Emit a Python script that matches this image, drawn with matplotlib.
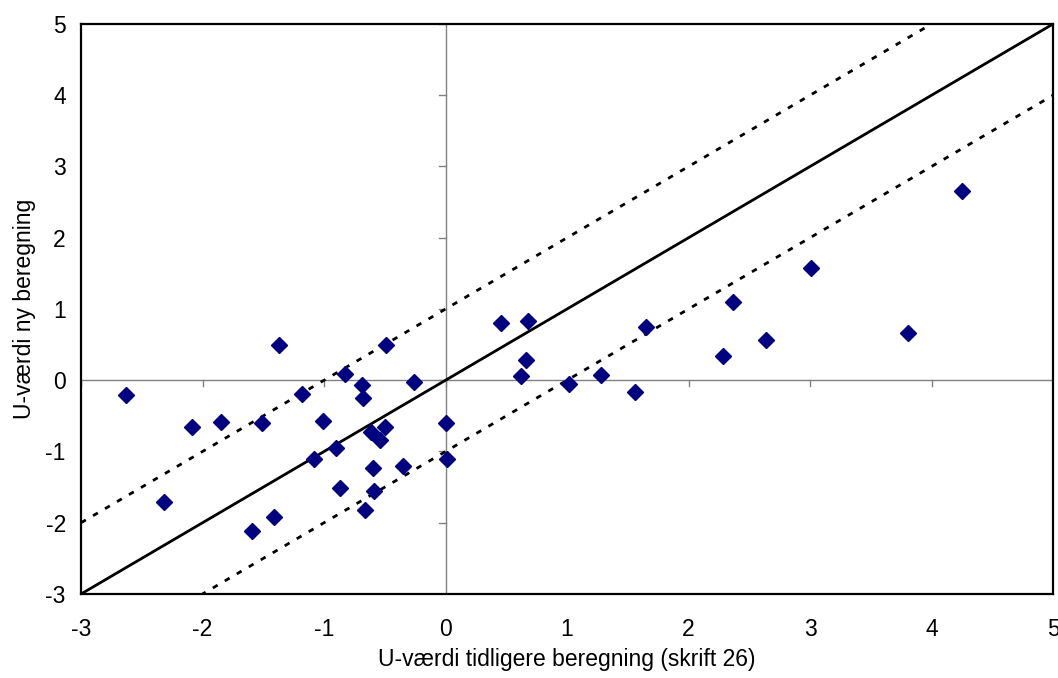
import numpy as np
import matplotlib.pyplot as plt

plt.rcParams['font.family'] = ['Liberation Sans', 'DejaVu Sans']
plt.rcParams['axes.unicode_minus'] = False

# U-values: earlier calculation (x) vs. new calculation (y)
u_old = [-2.63, -2.32, -2.09, -1.85, -1.59, -1.51, -1.41, -1.37, -1.18, -1.08,
         -1.01, -0.90, -0.87, -0.83, -0.69, -0.68, -0.66, -0.61, -0.60, -0.59,
         -0.54, -0.50, -0.49, -0.35, -0.26, 0.00, 0.01, 0.46, 0.62, 0.66,
         0.68, 1.02, 1.28, 1.56, 1.65, 2.28, 2.37, 2.64, 3.01, 3.81, 4.25]
u_new = [-0.21, -1.71, -0.66, -0.59, -2.11, -0.60, -1.92, 0.50, -0.20, -1.10,
         -0.57, -0.95, -1.51, 0.09, -0.06, -0.25, -1.82, -0.73, -1.23, -1.56,
         -0.84, -0.66, 0.49, -1.20, -0.02, -0.60, -1.11, 0.80, 0.06, 0.28,
         0.83, -0.05, 0.08, -0.17, 0.75, 0.34, 1.10, 0.56, 1.57, 0.67, 2.65]

ticks = np.arange(-3, 6)
line_x = np.array([-3, 5])

fig = plt.figure(figsize=(10.58, 6.78), dpi=100)
ax = fig.add_axes([0.0766, 0.1239, 0.9187, 0.8407])

# zero axes crossing in the middle, with outward ticks
ax.axhline(0, color='#808080', lw=1.0, zorder=1)
ax.axvline(0, color='#808080', lw=1.0, zorder=1)
for t in ticks:
    ax.plot([t, t], [0, -0.085], color='#808080', lw=1.0, zorder=1)
    ax.plot([0, -0.05], [t, t], color='#808080', lw=1.0, zorder=1)

ax.plot(line_x, line_x, color='black', lw=2.0, zorder=2)
ax.plot(line_x, line_x + 1, color='black', lw=2.0, ls=(0, (2, 3)), zorder=2)
ax.plot(line_x, line_x - 1, color='black', lw=2.0, ls=(0, (2, 3)), zorder=2)

ax.plot(u_old, u_new, ls='none', marker='D', markersize=8.5,
        color='#000080', markeredgecolor='#000080', zorder=3)

ax.set_xlim(-3, 5)
ax.set_ylim(-3, 5)
ax.set_xticks(ticks)
ax.set_yticks(ticks)
ax.tick_params(length=0, labelsize=16.5)
ax.tick_params(axis='x', pad=17)
ax.tick_params(axis='y', pad=11)
for s in ax.spines.values():
    s.set_linewidth(1.6)
    s.set_color('black')

ax.set_xlabel('U-værdi tidligere beregning (skrift 26)', fontsize=16.5, labelpad=5)
ax.set_ylabel('U-værdi ny beregning', fontsize=16.5, labelpad=7)

fig.savefig('out.png', dpi=100)
